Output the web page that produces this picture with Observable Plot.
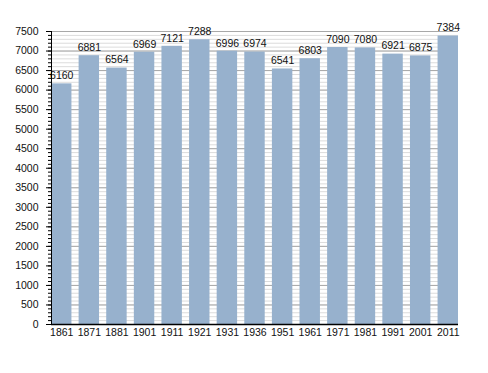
<!DOCTYPE html>
<html>
<head>
<meta charset="utf-8">
<script src="https://cdn.jsdelivr.net/npm/d3@7"></script>
<script src="https://cdn.jsdelivr.net/npm/@observablehq/plot@0.6"></script>
<style>
  html, body { margin: 0; padding: 0; background: #fff; }
  #chart svg { display: block; }
</style>
</head>
<body>
<div id="chart"></div>
<script>
const years = ["1861","1871","1881","1901","1911","1921","1931","1936","1951","1961","1971","1981","1991","2001","2011"];
const population = [6160,6881,6564,6969,7121,7288,6996,6974,6541,6803,7090,7080,6921,6875,7384];
const majorTicks = d3.range(0, 7501, 500);
const minorTicks = d3.range(0, 7501, 100);

const data = years.map((y, i) => ({year: y, pop: population[i]}));

const chart = Plot.plot({
  width: 488,
  height: 373,
  marginLeft: 51,
  marginRight: 30,
  marginTop: 31,
  marginBottom: 49,
  style: {fontFamily: "'Liberation Sans', Arial, sans-serif", fontSize: "10px", color: "#111", background: "#fff"},
  x: {domain: years, paddingInner: 0.26, paddingOuter: 0, round: false, label: null},
  y: {domain: [0, 7500], label: null},
  marks: [
    Plot.gridY(minorTicks, {stroke: "#dcdcdc", strokeOpacity: 1}),
    Plot.gridY(majorTicks, {stroke: "#a8a8a8", strokeOpacity: 1}),
    Plot.barY(data, {x: "year", y: "pop", fill: "#97b1cd"}),
    Plot.text(data, {x: "year", y: "pop", text: d => String(d.pop), dy: -8, fill: "#111", fontSize: 10.5}),
    Plot.axisY(minorTicks, {tickSize: 3, text: null, stroke: "#000"}),
    Plot.axisY(majorTicks, {tickSize: 5, tickPadding: 8, tickFormat: d => String(d), stroke: "#000", fill: "#111", fontSize: 10.5}),
    Plot.axisX({tickSize: 0, tickPadding: 4, fill: "#111", fontSize: 10.5}),
    Plot.frame({anchor: "left", stroke: "#000"}),
    Plot.ruleY([0], {stroke: "#000", strokeWidth: 1.5})
  ]
});
document.getElementById("chart").appendChild(chart);
</script>
</body>
</html>
